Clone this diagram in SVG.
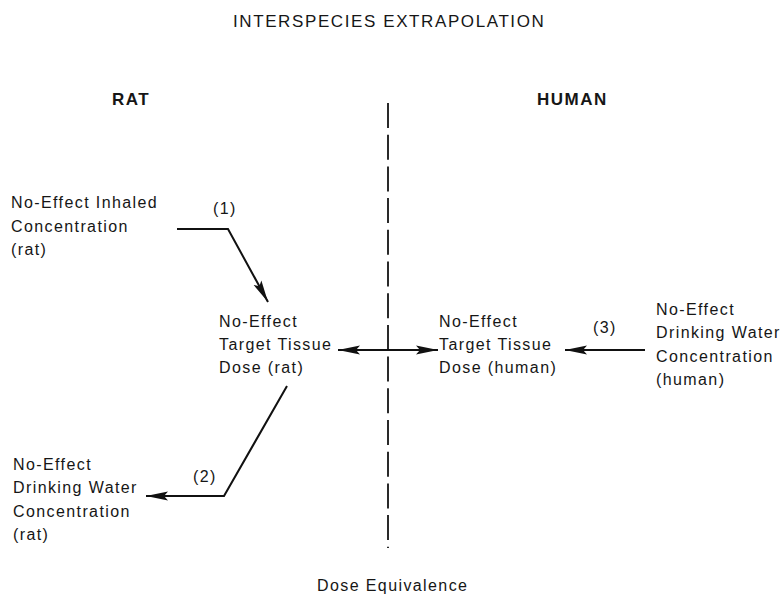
<svg xmlns="http://www.w3.org/2000/svg" width="783" height="594" viewBox="0 0 783 594">
<style>
  text { font-family: "Liberation Sans", Arial, sans-serif; fill: #161616; }
  .t { font-size: 16px; letter-spacing: 1.4px; }
  .title { font-size: 17px; letter-spacing: 1.6px; }
  .hdr { font-size: 17px; font-weight: bold; letter-spacing: 1.5px; }
  .con { fill: none; stroke: #111; stroke-width: 2; }
  .div { fill: none; stroke: #2a2a2a; stroke-width: 2; stroke-dasharray: 25 6.7; }
</style>
<defs>
  <marker id="ah" markerUnits="userSpaceOnUse" markerWidth="23" markerHeight="10" refX="22" refY="5" orient="auto-start-reverse">
    <path d="M0,0.5 L22,5 L0,9.5 L4,5 z" fill="#111"/>
  </marker>
</defs>
<rect width="783" height="594" fill="#fff"/>
<g id="title">
  <text class="title" x="233" y="27">INTERSPECIES EXTRAPOLATION</text>
</g>
<g id="header-rat"><text class="hdr" x="112" y="105">RAT</text></g>
<g id="header-human"><text class="hdr" x="537" y="105">HUMAN</text></g>
<g id="divider">
  <line class="div" x1="388" y1="103" x2="388" y2="548"/>
  <text class="t" x="317" y="591">Dose Equivalence</text>
</g>
<g id="rat-inhaled">
  <text class="t" x="11" y="208">No-Effect Inhaled</text>
  <text class="t" x="11" y="232">Concentration</text>
  <text class="t" x="11" y="255">(rat)</text>
</g>
<g id="rat-tissue">
  <text class="t" x="219" y="327">No-Effect</text>
  <text class="t" x="219" y="350">Target Tissue</text>
  <text class="t" x="219" y="373">Dose (rat)</text>
</g>
<g id="human-tissue">
  <text class="t" x="439" y="327">No-Effect</text>
  <text class="t" x="439" y="350">Target Tissue</text>
  <text class="t" x="439" y="373">Dose (human)</text>
</g>
<g id="human-water">
  <text class="t" x="656" y="315">No-Effect</text>
  <text class="t" x="656" y="338">Drinking Water</text>
  <text class="t" x="656" y="362">Concentration</text>
  <text class="t" x="656" y="385">(human)</text>
</g>
<g id="rat-water">
  <text class="t" x="13" y="470">No-Effect</text>
  <text class="t" x="13" y="493">Drinking Water</text>
  <text class="t" x="13" y="517">Concentration</text>
  <text class="t" x="13" y="540">(rat)</text>
</g>
<g id="connectors">
  <polyline class="con" points="177,229 228,229 268,302" marker-end="url(#ah)"/>
  <text class="t" x="213" y="214">(1)</text>
  <polyline class="con" points="287,386 224,496 146,496" marker-end="url(#ah)"/>
  <text class="t" x="193" y="482">(2)</text>
  <line class="con" x1="645" y1="350" x2="565" y2="350" marker-end="url(#ah)"/>
  <text class="t" x="593" y="333">(3)</text>
  <line class="con" x1="338" y1="350" x2="438" y2="350" marker-start="url(#ah)" marker-end="url(#ah)"/>
</g>
</svg>
